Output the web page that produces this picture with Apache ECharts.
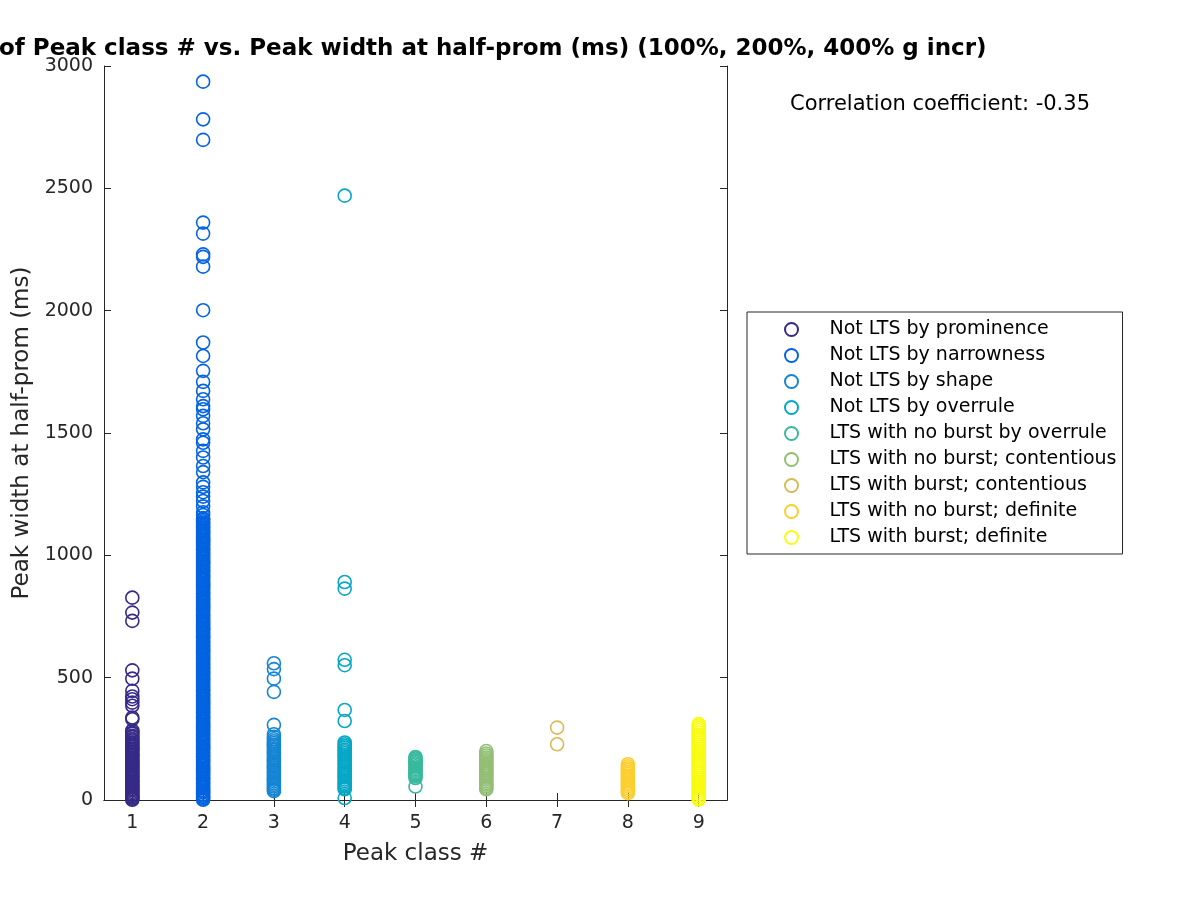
<!DOCTYPE html>
<html>
<head>
<meta charset="utf-8">
<script src="https://cdn.jsdelivr.net/npm/echarts@6/dist/echarts.min.js"></script>
<style>
  html, body { margin: 0; padding: 0; background: #fff; }
  #main { width: 1200px; height: 900px; }
</style>
</head>
<body>
<div id="main"></div>
<script>
// class names (legend) and colours
var classNames = ['Not LTS by prominence', 'Not LTS by narrowness', 'Not LTS by shape',
  'Not LTS by overrule', 'LTS with no burst by overrule', 'LTS with no burst; contentious',
  'LTS with burst; contentious', 'LTS with no burst; definite', 'LTS with burst; definite'];
var classColors = ['#352a87', '#0363e1', '#1485d4', '#06a7c6', '#38b99e',
  '#92bf73', '#d9ba56', '#fcce2e', '#f9fb0e'];

var xTicks = [1, 2, 3, 4, 5, 6, 7, 8, 9];

// peak width at half-prominence (ms) for each peak class
var class1 = [827, 766, 732, 530, 496, 446, 423, 412, 398, 385, 337, 330,
  284, 276, 271, 262, 257, 249, 243, 236, 231, 224, 218, 210, 206, 199, 192, 187,
  180, 174, 167, 161, 155, 150, 143, 137, 131, 124, 119, 112, 106, 100, 94, 88,
  81, 76, 70, 63, 58, 51, 45, 39, 33, 27, 21, 16, 10, 5, 1];
var class2 = [2936, 2782, 2698, 2360, 2315, 2230, 2220, 2180, 2002, 1870, 1815,
  1754, 1709, 1672, 1638, 1610, 1597, 1570, 1540, 1515, 1474, 1460, 1427, 1400,
  1365, 1340, 1298, 1280, 1258, 1240, 1222, 1200, 1176, 1165, 1152,
  1146, 1139, 1133, 1128, 1121, 1115, 1110, 1103, 1097, 1092, 1085, 1079, 1074,
  1067, 1061, 1056, 1049, 1043, 1038, 1031, 1025, 1020, 1013, 1007, 1002, 995,
  989, 984, 977, 971, 966, 959, 953, 948, 941, 935, 930, 923, 917, 912, 905, 899,
  894, 887, 881, 876, 869, 863, 858, 851, 845, 840, 833, 827, 822, 815, 809, 804,
  797, 791, 786, 779, 773, 768, 761, 755, 750, 743, 737, 732, 725, 719, 714, 707,
  701, 696, 689, 683, 678, 671, 665, 660, 653, 647, 642, 635, 629, 624, 617, 611,
  606, 599, 593, 588, 581, 575, 570, 563, 557, 552, 545, 539, 534, 527, 521, 516,
  509, 503, 498, 491, 485, 480, 473, 467, 462, 455, 449, 444, 437, 431, 426, 419,
  413, 408, 401, 395, 390, 383, 377, 372, 365, 359, 354, 347, 341, 336, 329, 323,
  318, 311, 305, 300, 293, 287, 282, 275, 269, 264, 257, 251, 246, 239, 233, 228,
  221, 215, 210, 203, 197, 192, 185, 179, 174, 167, 161, 156, 149, 143, 138, 131,
  125, 120, 113, 107, 102, 95, 89, 84, 77, 71, 66, 59, 53, 48, 41, 35, 30, 23, 17,
  12, 6, 1];
var class3 = [559, 535, 496, 442, 307, 269, 258, 248, 240, 233, 226, 219, 211,
  204, 196, 190, 183, 175, 168, 161, 154, 147, 139, 133, 125, 118, 111, 104, 97,
  90, 83, 76, 69, 62, 55, 48, 42, 36];
var class4 = [2470, 891, 864, 573, 551, 368, 323, 235, 228, 221, 214, 206, 199,
  192, 185, 178, 170, 163, 156, 149, 142, 135, 127, 120, 113, 106, 99, 92, 84, 77,
  70, 63, 56, 49, 44, 8];
var class5 = [176, 170, 163, 157, 150, 145, 138, 132, 126, 120, 114, 108, 102,
  96, 90, 55];
var class6 = [200, 190, 182, 174, 166, 158, 150, 143, 136, 128, 121, 113, 106,
  99, 91, 84, 77, 70, 63, 56, 49, 44];
var class7 = [296, 228];
var class8 = [146, 138, 130, 123, 115, 108, 100, 92, 85, 78, 70, 63, 56, 48, 41,
  34, 28];
var class9 = [310, 302, 294, 286, 277, 268, 260, 252, 243, 234, 226, 218, 209,
  200, 192, 184, 175, 166, 158, 150, 141, 133, 124, 116, 108, 99, 90, 82, 74, 65,
  57, 48, 40, 31, 23, 15, 7, 2];

var classValues = [class1, class2, class3, class4, class5, class6, class7, class8, class9];
var corrText = 'Correlation coefficient: -0.35';

var font = 'DejaVu Sans';
var ink = '#262626';

var series = classValues.map(function (vals, i) {
  return {
    name: classNames[i],
    type: 'scatter',
    symbol: 'circle',
    symbolSize: 13,
    silent: true,
    itemStyle: {
      color: 'transparent',
      borderColor: classColors[i],
      borderWidth: 1.6,
      opacity: 1
    },
    data: vals.map(function (v) { return [xTicks[i], v]; })
  };
});

var chart = echarts.init(document.getElementById('main'));
chart.setOption({
  animation: false,
  backgroundColor: '#fff',
  title: {
    text: 'of Peak class # vs. Peak width at half-prom (ms) (100%, 200%, 400% g incr)',
    left: -1,
    top: 38,
    padding: 0,
    textStyle: { fontFamily: font, fontSize: 23, fontWeight: 'bold', color: '#000' }
  },
  grid: { left: 104, top: 66, width: 623, height: 734 },
  legend: {
    orient: 'vertical',
    left: 747,
    top: 312,
    padding: [8, 6, 7, 37],
    itemWidth: 40,
    itemHeight: 13,
    itemGap: 7,
    icon: 'circle',
    borderColor: ink,
    borderWidth: 1,
    backgroundColor: '#fff',
    selectedMode: false,
    textStyle: { fontFamily: font, fontSize: 19, color: '#000', padding: [0, 0, 0, 13] },
    data: classNames
  },
  xAxis: [{
    type: 'value',
    min: 0.6,
    max: 9.4,
    name: 'Peak class #',
    nameLocation: 'middle',
    nameGap: 43,
    nameTextStyle: { fontFamily: font, fontSize: 23, color: ink },
    axisLine: { lineStyle: { color: ink, width: 1 } },
    axisTick: { inside: true, length: 7, customValues: xTicks, lineStyle: { color: ink } },
    axisLabel: { customValues: xTicks, fontFamily: font, fontSize: 19, color: ink, margin: 14 },
    splitLine: { show: false }
  }, {
    type: 'value',
    position: 'top',
    min: 0.6,
    max: 9.4,
    axisLine: { lineStyle: { color: ink, width: 1 } },
    axisTick: { inside: true, length: 7, customValues: xTicks, lineStyle: { color: ink } },
    axisLabel: { show: false },
    splitLine: { show: false }
  }],
  yAxis: [{
    type: 'value',
    position: 'left',
    min: 0,
    max: 3000,
    interval: 500,
    name: 'Peak width at half-prom (ms)',
    nameLocation: 'middle',
    nameGap: 70,
    nameTextStyle: { fontFamily: font, fontSize: 23, color: ink },
    axisLine: { show: true, onZero: false, lineStyle: { color: ink, width: 1 } },
    axisTick: { show: false },
    axisLabel: {
      fontFamily: font, fontSize: 19, color: ink, margin: 11,
      formatter: function (v) { return String(v); }
    },
    splitLine: { show: false }
  }, {
    type: 'value',
    position: 'right',
    min: 0,
    max: 3000,
    interval: 500,
    axisLine: { show: true, onZero: false, lineStyle: { color: ink, width: 1 } },
    axisTick: { show: true, inside: true, length: 7, lineStyle: { color: ink } },
    axisLabel: { show: false },
    splitLine: { show: false }
  }, {
    // ticks of the left border, pointing into the plot
    type: 'value',
    position: 'right',
    offset: -623,
    min: 0,
    max: 3000,
    interval: 500,
    axisLine: { show: false, onZero: false },
    axisTick: { show: true, inside: false, length: 7, lineStyle: { color: ink } },
    axisLabel: { show: false },
    splitLine: { show: false }
  }],
  graphic: [{
    type: 'text',
    left: 790,
    top: 94,
    style: { text: corrText, font: '21px "DejaVu Sans"', fill: '#000' }
  }],
  series: series
});
</script>
</body>
</html>
